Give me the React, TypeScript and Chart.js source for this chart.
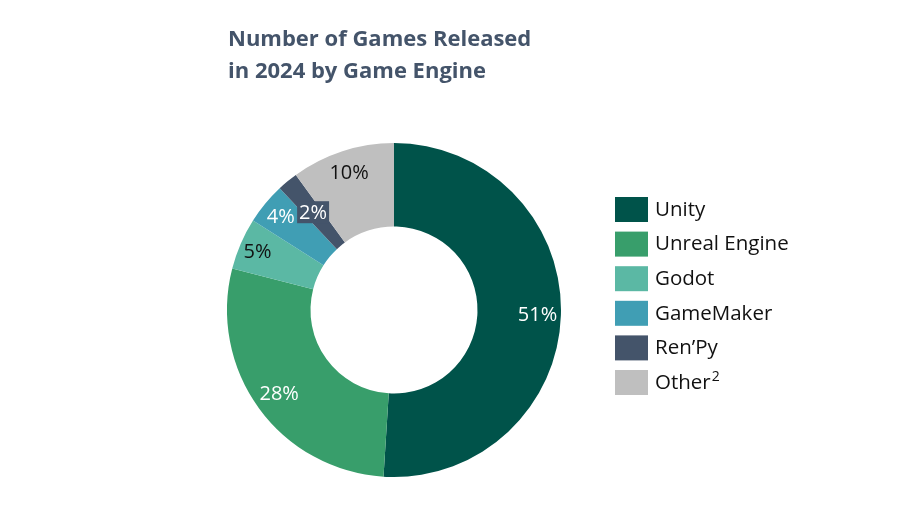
import { useEffect, useRef } from "react"
import { Chart, registerables } from "chart.js"

Chart.register(...registerables)

// Data
const titleLines = ["Number of Games Released", "in 2024 by Game Engine"]
const engines = ["Unity", "Unreal Engine", "Godot", "GameMaker", "Ren\u2019Py", "Other"]
const footnotes = ["", "", "", "", "", "2"]
const shares = [51, 28, 5, 4, 2, 10]
const colors = ["#00534A", "#389E6B", "#5BB8A4", "#409EB4", "#44546A", "#BFBFBF"]
const labelColors = ["#FFFFFF", "#FFFFFF", "#111111", "#FFFFFF", "#FFFFFF", "#111111"]

const FONT = "'Open Sans', Lato, sans-serif"

// label radius as fraction of outer radius, per slice
const labelRadius = [0.86, 0.85, 0.89, 0.88, 0.76, 0.87]

const overlayPlugin = {
  id: "overlay",
  afterDraw(chart: Chart) {
    const ctx = chart.ctx
    ctx.save()

    // title
    ctx.fillStyle = "#44546A"
    ctx.font = `bold 22px ${FONT}`
    ctx.textAlign = "left"
    ctx.textBaseline = "alphabetic"
    titleLines.forEach((line, i) => ctx.fillText(line, 228, 46 + i * 32))

    // slice labels
    const meta = chart.getDatasetMeta(0)
    meta.data.forEach((arc: any, i: number) => {
      const { x, y, startAngle, endAngle, outerRadius } = arc.getProps(
        ["x", "y", "startAngle", "endAngle", "outerRadius"],
        true
      )
      const mid = (startAngle + endAngle) / 2
      const r = outerRadius * labelRadius[i]
      const lx = x + Math.cos(mid) * r
      const ly = y + Math.sin(mid) * r
      const text = shares[i] + "%"
      ctx.font = `20px ${FONT}`
      ctx.textAlign = "center"
      ctx.textBaseline = "middle"
      if (i === 4) {
        const w = ctx.measureText(text).width + 4
        ctx.fillStyle = colors[4]
        ctx.fillRect(lx - w / 2, ly - 11, w, 22)
      }
      ctx.fillStyle = labelColors[i]
      ctx.fillText(text, lx, ly + 1)
    })

    // legend
    ctx.textAlign = "left"
    ctx.textBaseline = "middle"
    engines.forEach((name, i) => {
      const top = 197 + i * 34.6
      ctx.fillStyle = colors[i]
      ctx.fillRect(615, top, 33, 25)
      ctx.fillStyle = "#111111"
      ctx.font = `20.5px ${FONT}`
      ctx.fillText(name, 655, top + 13)
      if (footnotes[i]) {
        const w = ctx.measureText(name).width
        ctx.font = `14px ${FONT}`
        ctx.fillText(footnotes[i], 655 + w + 1, top + 7)
      }
    })

    ctx.restore()
  },
}

export default function App() {
  const canvasRef = useRef<HTMLCanvasElement>(null)
  const chartRef = useRef<Chart | null>(null)

  useEffect(() => {
    document.body.style.margin = "0"
    if (!canvasRef.current) return
    if (chartRef.current) chartRef.current.destroy()

    chartRef.current = new Chart(canvasRef.current, {
      type: "doughnut",
      data: {
        labels: engines,
        datasets: [
          {
            data: shares,
            backgroundColor: colors,
            borderWidth: 0,
          },
        ],
      },
      options: {
        responsive: false,
        animation: false,
        cutout: "50%",
        layout: {
          padding: { left: 227, right: 359, top: 143, bottom: 40 },
        },
        plugins: {
          legend: { display: false },
          tooltip: { enabled: false },
          title: { display: false },
        },
      },
      plugins: [overlayPlugin],
    })

    return () => {
      if (chartRef.current) {
        chartRef.current.destroy()
        chartRef.current = null
      }
    }
  }, [])

  return (
    <div style={{ width: 920, height: 517, background: "#FFFFFF" }}>
      <canvas ref={canvasRef} width={920} height={517} />
    </div>
  )
}
